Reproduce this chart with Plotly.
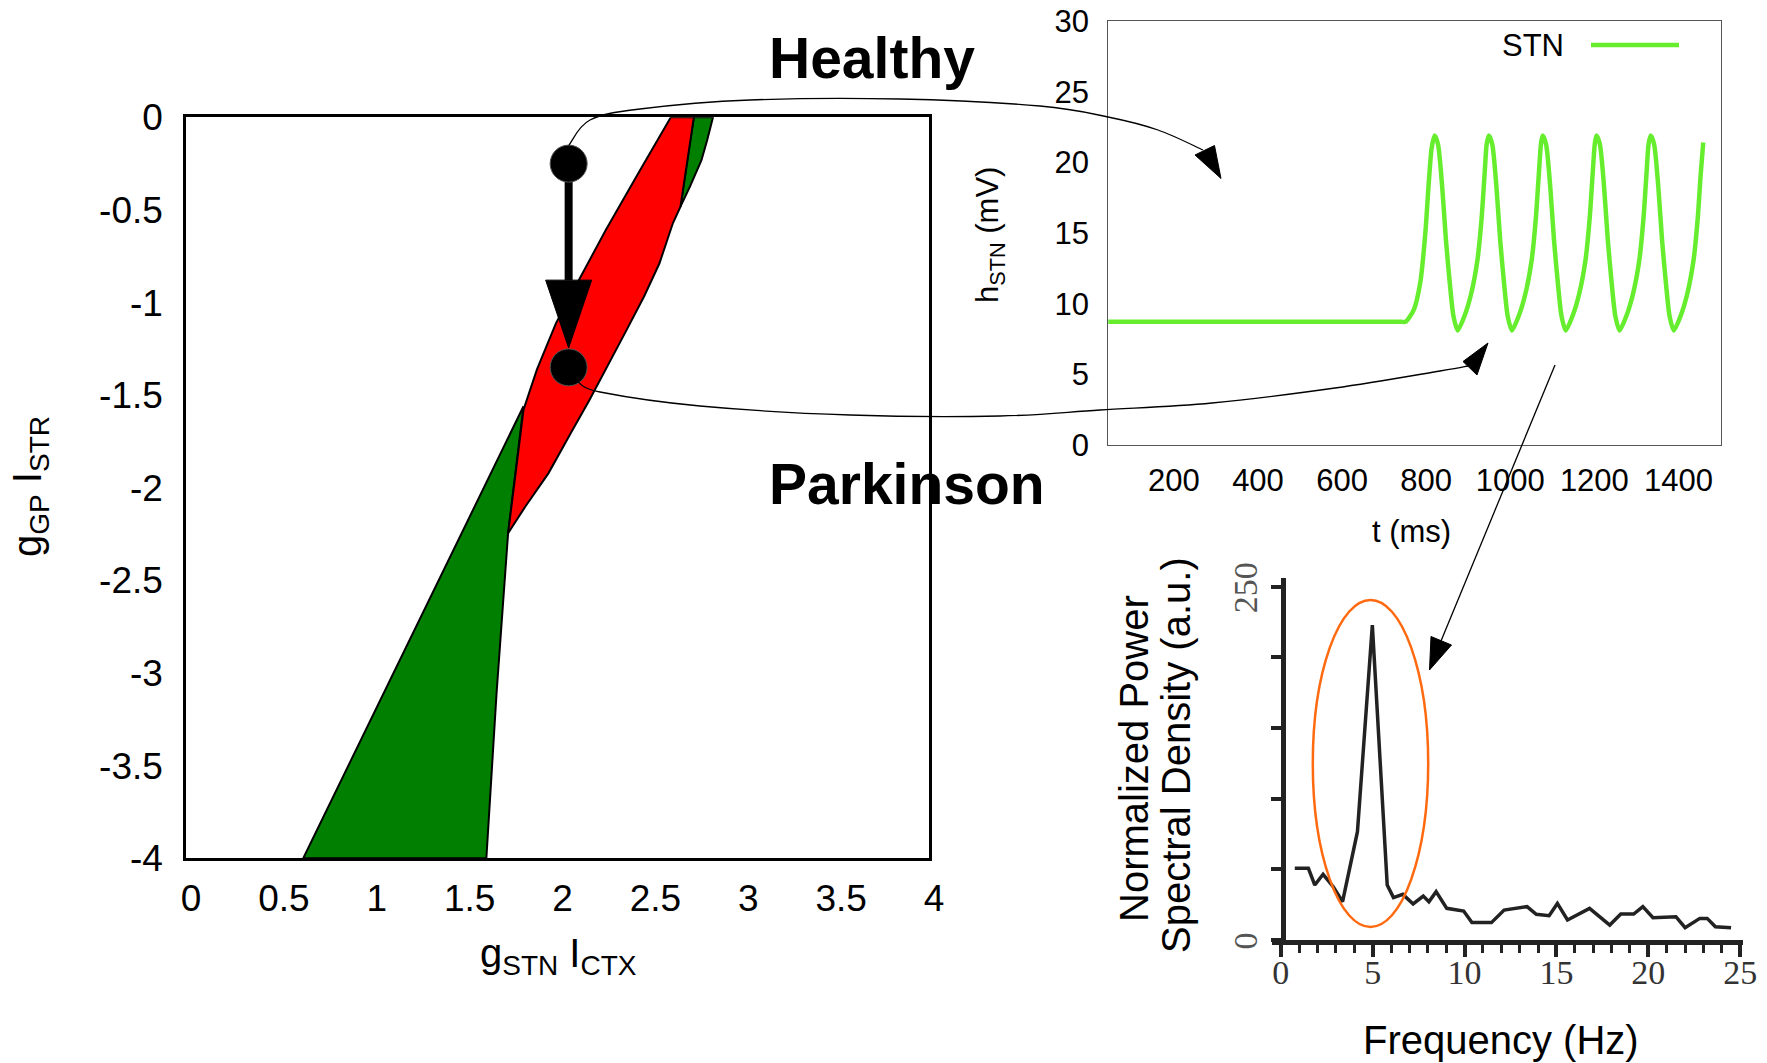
import plotly.graph_objects as go

W, H = 1767, 1063
SANS = "Liberation Sans, Arial, Helvetica, sans-serif"
SERIF = "Liberation Serif, Times New Roman, serif"

# ---------------- data: bifurcation diagram (main panel) ----------------
x_ticks = [0, 0.5, 1, 1.5, 2, 2.5, 3, 3.5, 4]
x_tick_labels = ["0", "0.5", "1", "1.5", "2", "2.5", "3", "3.5", "4"]
y_ticks = [0, -0.5, -1, -1.5, -2, -2.5, -3, -3.5, -4]
y_tick_labels = ["0", "-0.5", "-1", "-1.5", "-2", "-2.5", "-3", "-3.5", "-4"]

red_x = [2.61, 2.734, 2.662, 2.621, 2.549, 2.466, 2.363, 2.239, 2.17, 2.074, 1.951, 1.827, 1.734,
         1.776, 1.817, 1.889, 1.992, 2.116, 2.260, 2.445, 2.61]
red_y = [0.0, 0.0, -0.482, -0.572, -0.788, -0.967, -1.165, -1.399, -1.53, -1.70, -1.922, -2.101, -2.245,
         -1.91, -1.578, -1.362, -1.111, -0.877, -0.608, -0.284, 0.0]

green_top_x = [2.734, 2.837, 2.806, 2.775, 2.713, 2.662, 2.734]
green_top_y = [0.0, 0.0, -0.123, -0.231, -0.374, -0.482, 0.0]

green_x = [1.817, 0.631, 1.617, 1.672, 1.734, 1.776, 1.817]
green_y = [-1.56, -4.0, -4.0, -3.108, -2.245, -1.91, -1.56]

state_x = [2.06, 2.06]          # healthy, parkinsonian operating points
state_y = [-0.25, -1.35]

# ---------------- data: STN time series ----------------
ts_t = [0, 200, 400, 600, 700, 740, 751, 771, 786, 798, 806, 813,
        820, 828, 838, 847, 857, 865, 875, 892, 907, 922, 932, 939, 944,
        949, 957, 967, 976, 986, 994, 1004, 1021, 1036, 1051, 1061, 1068, 1073,
        1077, 1085, 1095, 1104, 1114, 1122, 1132, 1149, 1164, 1179, 1189, 1196, 1201,
        1205, 1213, 1223, 1232, 1242, 1250, 1260, 1277, 1292, 1307, 1317, 1324, 1329,
        1334, 1342, 1352, 1361, 1371, 1379, 1389, 1406, 1421, 1436, 1446, 1453, 1459]
ts_v = [8.72, 8.72, 8.72, 8.72, 8.72, 8.72, 8.72, 9.6, 11.5, 15.0, 18.5, 21.0,
        21.9, 21.3, 18.3, 14.5, 11.2, 9.1, 8.1, 9.2, 10.7, 13.1, 16.1, 19.2, 21.3,
        21.9, 21.3, 18.3, 14.5, 11.2, 9.1, 8.1, 9.2, 10.7, 13.1, 16.1, 19.2, 21.3,
        21.9, 21.3, 18.3, 14.5, 11.2, 9.1, 8.1, 9.2, 10.7, 13.1, 16.1, 19.2, 21.3,
        21.9, 21.3, 18.3, 14.5, 11.2, 9.1, 8.1, 9.2, 10.7, 13.1, 16.1, 19.2, 21.3,
        21.9, 21.3, 18.3, 14.5, 11.2, 9.1, 8.1, 9.2, 10.7, 13.1, 16.1, 19.2, 21.4]
ts_xticks = [200, 400, 600, 800, 1000, 1200, 1400]
ts_yticks = [0, 5, 10, 15, 20, 25, 30]

# ---------------- data: power spectral density ----------------
psd_f = [0.76, 1.5, 1.85, 2.3, 2.85, 3.36, 4.17, 4.98, 5.79, 6.13, 6.64, 7.2, 7.75, 8.06, 8.45,
         9.03, 9.95, 10.4, 11.46, 12.15, 13.4, 13.9, 14.6, 15.05, 15.6, 16.8, 17.9, 18.5, 19.2,
         19.7, 20.25, 21.5, 22.0, 22.8, 23.2, 23.65, 24.5]
psd_v = [50.7, 50.7, 38.9, 46.5, 37.7, 27.1, 76.7, 222.9, 38.9, 30.0, 32.3, 25.5, 31.1, 27.1, 34.2,
         22.4, 20.5, 12.3, 12.3, 21.2, 23.6, 18.2, 17.2, 25.9, 14.2, 22.4, 10.6, 18.4, 18.4,
         23.6, 15.8, 16.5, 8.7, 15.3, 15.3, 9.4, 8.7]
psd_yticks = [0, 50, 100, 150, 200, 250]
psd_ytext = ["0", "", "", "", "", "250"]


def px(x):
    return x / W


def py(y):
    return 1 - y / H


def smooth_path(pts):
    """Catmull-Rom through pixel points -> cubic bezier path in paper coords."""
    s = f"M {px(pts[0][0]):.5f},{py(pts[0][1]):.5f}"
    n = len(pts)
    for i in range(n - 1):
        p0 = pts[i - 1] if i > 0 else pts[i]
        p1, p2 = pts[i], pts[i + 1]
        p3 = pts[i + 2] if i + 2 < n else p2
        c1 = (p1[0] + (p2[0] - p0[0]) / 6, p1[1] + (p2[1] - p0[1]) / 6)
        c2 = (p2[0] - (p3[0] - p1[0]) / 6, p2[1] - (p3[1] - p1[1]) / 6)
        s += (f" C {px(c1[0]):.5f},{py(c1[1]):.5f} {px(c2[0]):.5f},{py(c2[1]):.5f}"
              f" {px(p2[0]):.5f},{py(p2[1]):.5f}")
    return s


def tri_path(a, b, c):
    return (f"M {px(a[0]):.5f},{py(a[1]):.5f} L {px(b[0]):.5f},{py(b[1]):.5f} "
            f"L {px(c[0]):.5f},{py(c[1]):.5f} Z")


fig = go.Figure()

# main panel regions
fig.add_trace(go.Scatter(x=green_x, y=green_y, mode="lines", fill="toself", fillcolor="#007f00",
                         line=dict(color="black", width=2), xaxis="x", yaxis="y", hoverinfo="skip"))
fig.add_trace(go.Scatter(x=green_top_x, y=green_top_y, mode="lines", fill="toself", fillcolor="#007f00",
                         line=dict(color="black", width=2), xaxis="x", yaxis="y", hoverinfo="skip"))
fig.add_trace(go.Scatter(x=red_x, y=red_y, mode="lines", fill="toself", fillcolor="#ff0000",
                         line=dict(color="black", width=2), xaxis="x", yaxis="y", hoverinfo="skip"))

# transition arrow between the two states
ux = 4 / (929 - 186)       # data units per pixel (x)
head_base = state_y[0] - 0.629
head_tip = state_y[1] + 0.105
fig.add_trace(go.Scatter(x=[state_x[0], state_x[0]], y=[state_y[0], head_base], mode="lines",
                         line=dict(color="black", width=8), xaxis="x", yaxis="y", hoverinfo="skip"))
fig.add_trace(go.Scatter(x=[state_x[0] - 23 * ux, state_x[0] + 23 * ux, state_x[0], state_x[0] - 23 * ux],
                         y=[head_base, head_base, head_tip, head_base], mode="lines", fill="toself",
                         fillcolor="black", line=dict(color="black", width=1),
                         xaxis="x", yaxis="y", hoverinfo="skip"))
fig.add_trace(go.Scatter(x=state_x, y=state_y, mode="markers",
                         marker=dict(size=37, color="black", line=dict(color="#555", width=1)),
                         xaxis="x", yaxis="y", hoverinfo="skip"))

# time series
fig.add_trace(go.Scatter(x=ts_t, y=ts_v, mode="lines", name="STN",
                         line=dict(color="#66ee2e", width=4.5, shape="spline", smoothing=0.7),
                         xaxis="x2", yaxis="y2", hoverinfo="skip"))

# PSD
fig.add_trace(go.Scatter(x=psd_f, y=psd_v, mode="lines",
                         line=dict(color="#222222", width=3.5),
                         xaxis="x3", yaxis="y3", hoverinfo="skip"))

shapes = []
# curved arrows from the operating points to the time series
curve1 = [(569, 145), (590, 120), (640, 109), (750, 100), (900, 99), (1040, 106), (1108, 117),
          (1158, 130), (1203, 150)]
curve2 = [(578, 382), (600, 392), (700, 406), (850, 415), (1000, 416), (1100, 410), (1212, 403),
          (1335, 388), (1440, 371), (1468, 366)]
for c in (curve1, curve2):
    shapes.append(dict(type="path", xref="paper", yref="paper", path=smooth_path(c),
                       line=dict(color="black", width=1.3), layer="above"))
shapes.append(dict(type="path", xref="paper", yref="paper",
                   path=tri_path((1195, 155), (1214.5, 145.5), (1221, 178.5)),
                   fillcolor="black", line=dict(color="black", width=1), layer="above"))
shapes.append(dict(type="path", xref="paper", yref="paper",
                   path=tri_path((1463, 361.5), (1477, 375), (1488, 343)),
                   fillcolor="black", line=dict(color="black", width=1), layer="above"))
# straight arrow to the PSD
shapes.append(dict(type="line", xref="paper", yref="paper", x0=px(1555), y0=py(365), x1=px(1441), y1=py(641),
                   line=dict(color="black", width=1.3), layer="above"))
shapes.append(dict(type="path", xref="paper", yref="paper",
                   path=tri_path((1431, 636.5), (1451.5, 645), (1429.5, 670)),
                   fillcolor="black", line=dict(color="black", width=1), layer="above"))
# legend sample line
shapes.append(dict(type="line", xref="paper", yref="paper", x0=px(1591), y0=py(45), x1=px(1679), y1=py(45),
                   line=dict(color="#66ee2e", width=4.5), layer="above"))
# orange ellipse around the PSD peak
shapes.append(dict(type="circle", xref="x3", yref="y3", x0=1.74, x1=8.02, y0=9.2, y1=240.6,
                   line=dict(color="#ff6a10", width=2.5), layer="above"))

annotations = [
    dict(text="<b>Healthy</b>", x=px(767), y=py(58), xanchor="left", yanchor="middle",
         font=dict(family=SANS, size=57, color="black")),
    dict(text="<b>Parkinson</b>", x=px(767), y=py(484), xanchor="left", yanchor="middle",
         font=dict(family=SANS, size=57, color="black")),
    dict(text="g<sub>STN</sub> I<sub>CTX</sub>", x=px(558), y=py(956), xanchor="center", yanchor="middle",
         font=dict(family=SANS, size=40, color="black")),
    dict(text="g<sub>GP</sub> I<sub>STR</sub>", x=px(30), y=py(487), xanchor="center", yanchor="middle",
         textangle=-90, font=dict(family=SANS, size=40, color="black")),
    dict(text="t (ms)", x=px(1411), y=py(531), xanchor="center", yanchor="middle",
         font=dict(family=SANS, size=31, color="black")),
    dict(text="h<sub>STN</sub> (mV)", x=px(990), y=py(235), xanchor="center", yanchor="middle",
         textangle=-90, font=dict(family=SANS, size=31, color="black")),
    dict(text="STN", x=px(1566), y=py(45), xanchor="right", yanchor="middle",
         font=dict(family=SANS, size=31, color="black")),
    dict(text="Normalized Power", x=px(1134), y=py(759), xanchor="center", yanchor="middle",
         textangle=-90, font=dict(family=SANS, size=40, color="black")),
    dict(text="Spectral Density (a.u.)", x=px(1176), y=py(755), xanchor="center", yanchor="middle",
         textangle=-90, font=dict(family=SANS, size=40, color="black")),
    dict(text="Frequency (Hz)", x=px(1501), y=py(1040), xanchor="center", yanchor="middle",
         font=dict(family=SANS, size=40, color="black")),
]
for a in annotations:
    a.update(xref="paper", yref="paper", showarrow=False)

fig.update_layout(
    template="none",
    width=W, height=H, margin=dict(l=0, r=0, t=0, b=0, pad=0, autoexpand=False),
    paper_bgcolor="white", plot_bgcolor="rgba(0,0,0,0)", showlegend=False,
    shapes=shapes, annotations=annotations,
    xaxis=dict(domain=[px(186), px(929)], range=[0, 4], anchor="y", automargin=False,
               showline=True, mirror=True, linecolor="black", linewidth=2.5,
               ticks="", tickmode="array", tickvals=x_ticks, ticktext=x_tick_labels,
               tickfont=dict(family=SANS, size=37, color="black"), ticklabelstandoff=6,
               ticklabelshift=5, showgrid=False, zeroline=False),
    yaxis=dict(domain=[py(858.3), py(117.3)], range=[-4, 0], anchor="x", automargin=False,
               showline=True, mirror=True, linecolor="black", linewidth=2.5,
               ticks="", tickmode="array", tickvals=y_ticks, ticktext=y_tick_labels,
               tickfont=dict(family=SANS, size=37, color="black"), ticklabelstandoff=13,
               showgrid=False, zeroline=False),
    xaxis2=dict(domain=[px(1108.3), px(1720.5)], range=[44, 1500], anchor="y2", automargin=False,
                showline=True, mirror=True, linecolor="#555", linewidth=1.2,
                ticks="", tickmode="array", tickvals=ts_xticks,
                tickfont=dict(family=SANS, size=31, color="black"), ticklabelstandoff=8,
                showgrid=False, zeroline=False),
    yaxis2=dict(domain=[py(445), py(21)], range=[0, 30], anchor="x2", automargin=False,
                showline=True, mirror=True, linecolor="#555", linewidth=1.2,
                ticks="", tickmode="array", tickvals=ts_yticks,
                tickfont=dict(family=SANS, size=31, color="black"), ticklabelstandoff=12,
                showgrid=False, zeroline=False),
    xaxis3=dict(domain=[px(1272), px(1743)], range=[-0.48, 25.15], anchor="y3", automargin=False,
                showline=True, linecolor="#222", linewidth=5,
                ticks="outside", ticklen=12, tickwidth=3.5, tickcolor="#222",
                tickmode="linear", tick0=0, dtick=5,
                minor=dict(tickmode="linear", tick0=0, dtick=1, ticks="outside", ticklen=8,
                           tickwidth=3, tickcolor="#222", showgrid=False),
                tickfont=dict(family=SERIF, size=34, color="#333"), ticklabelstandoff=-14,
                showgrid=False, zeroline=False),
    yaxis3=dict(domain=[py(940), py(578)], range=[0, 256.2], anchor="free", position=px(1283),
                automargin=False,
                showline=True, linecolor="#222", linewidth=5,
                ticks="outside", ticklen=10, tickwidth=3.5, tickcolor="#222",
                tickmode="array", tickvals=psd_yticks, ticktext=psd_ytext, tickangle=-90,
                tickfont=dict(family=SERIF, size=34, color="#555"), ticklabelshift=6,
                showgrid=False, zeroline=False),
)

fig.write_html("out.html", config={"displayModeBar": False})
